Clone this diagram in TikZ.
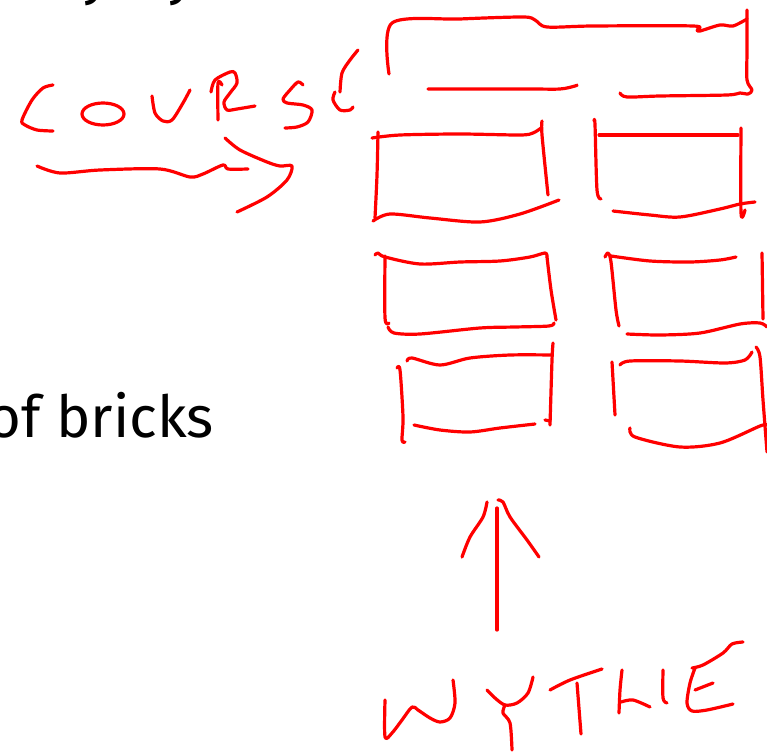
\documentclass[tikz,border=0pt]{standalone}
\usepackage{fontspec}
\setmainfont{Fira Sans}
\begin{document}
\begin{tikzpicture}[x=1pt,y=-1pt,
  ink/.style={draw=red, line width=3.2pt, line cap=round, line join=round},
  sk/.style={ink, smooth, tension=0.5}]
\useasboundingbox (0,0) rectangle (767,751);
\clip (0,0) rectangle (767,751);
\fill[white] (0,0) rectangle (767,751);
% printed text
\node[anchor=base east, inner sep=0, font=\fontsize{58}{60}\selectfont] (txt) at (214,437) {of bricks};
\node[anchor=base, inner sep=0, font=\fontsize{58}{60}\selectfont] (y1) at (97,-6) {y};
\node[anchor=base, inner sep=0, font=\fontsize{58}{60}\selectfont] (y2) at (182,-6) {y};
% COURSE
\draw[sk] plot coordinates {(53,85) (43,88) (32,100) (22,120) (25,125) (37,130) (53,131)};
\draw[ink] (103,114) ellipse [x radius=21, y radius=11];
\draw[sk] plot coordinates {(152,96) (155,113) (163,121) (172,120) (183,103) (190,90)};
\draw[sk] plot coordinates {(218,120) (218,83) (222,85)};
\draw[sk] plot coordinates {(211,92) (215,80) (230,72) (235,73) (237,83) (230,93) (224,102) (227,110) (237,109) (255,106)};
\draw[sk] plot coordinates {(303,85) (298,82) (290,90) (283,99) (287,103) (303,105) (312,110) (308,122) (297,127) (285,128)};
\draw[sk] plot coordinates {(358,50) (350,60) (342,73) (340,92)};
\draw[sk] plot coordinates {(335,92) (333,100) (340,110) (350,110) (353,107)};
% arrow under COURSE
\draw[sk] plot coordinates {(37,166) (60,173) (100,170) (160,169) (190,177) (203,174) (223,165) (228,169) (248,169)};
\draw[sk] plot coordinates {(225,138) (240,150) (267,162) (280,166) (292,166) (287,180) (267,197) (237,212)};
% top brick
\draw[sk] plot coordinates {(389,74) (392,23) (460,19) (523,17) (535,20) (547,27) (593,26) (693,26) (697,30) (700,31) (720,25) (733,26) (747,19)};
\draw[sk] plot coordinates {(747,10) (747,50) (747,80) (752,90) (748,94) (740,93) (727,95) (660,96) (627,97) (620,93)};
\draw[sk] plot coordinates {(428,89) (527,89) (560,89) (575,86) (577,85)};
% row 2 left
\draw[sk] plot coordinates {(372,138) (400,135) (460,134) (520,135) (533,133) (541,128)};
\draw[sk] plot coordinates {(378,132) (377,175) (375,218)};
\draw[sk] plot coordinates {(542,121) (542,135) (548,195)};
\draw[sk] plot coordinates {(373,221) (390,214) (430,218) (480,222) (520,214) (559,200)};
% row 2 right
\draw[sk] plot coordinates {(594,121) (595,125) (597,190) (601,199)};
\draw[sk] plot coordinates {(599,135) (738,135)};
\draw[sk] plot coordinates {(741,128) (741,213) (745,210)};
\draw[sk] plot coordinates {(613,211) (650,215) (680,217) (720,209) (740,204) (755,202)};
% row 3 left
\draw[sk] plot coordinates {(375,255) (378,253) (385,257) (420,264) (460,262) (500,261) (530,257) (545,253) (547,257)};
\draw[sk] plot coordinates {(385,256) (385,318) (389,323)};
\draw[sk] plot coordinates {(547,257) (551,290) (556,320)};
\draw[sk] plot coordinates {(388,327) (394,333) (420,334) (480,328) (515,327) (549,326) (554,323)};
% row 3 right
\draw[sk] plot coordinates {(605,257) (608,253) (611,262) (616,310) (619,326)};
\draw[sk] plot coordinates {(611,256) (650,261) (690,262) (720,260) (736,257)};
\draw[sk] plot coordinates {(762,253) (763,319)};
\draw[sk] plot coordinates {(627,334) (660,335) (700,333) (740,324) (760,323) (767,327)};
% row 4 left
\draw[sk] plot coordinates {(397,368) (400,370) (403,417) (402,440) (405,442)};
\draw[sk] plot coordinates {(407,361) (412,358) (440,365) (470,358) (510,355) (552,355)};
\draw[sk] plot coordinates {(553,343) (552,360) (550,425)};
\draw[sk] plot coordinates {(414,425) (440,430) (470,432) (500,428) (535,424)};
\draw[ink] (545,420) -- (550,421);
% row 4 right
\draw[sk] plot coordinates {(612,362) (615,415)};
\draw[sk] plot coordinates {(620,365) (630,361) (680,361) (725,363) (745,360) (752,352)};
\draw[sk] plot coordinates {(756,347) (760,357) (763,400) (767,452)};
\draw[sk] plot coordinates {(630,428) (635,437) (680,447) (720,443) (760,426) (767,425)};
% arrow up
\draw[ink] (497,508) -- (497,630);
\draw[sk] plot coordinates {(487,502) (483,517) (470,537) (462,557)};
\draw[sk] plot coordinates {(498,500) (503,502) (510,517) (527,540) (539,557)};
% WYTHE
\draw[sk] plot coordinates {(385,700) (385,737) (392,733) (402,720) (412,707) (418,710) (430,718) (440,722) (450,718) (455,703) (453,680)};
\draw[sk] plot coordinates {(487,690) (495,698) (505,705) (517,703) (528,693) (533,677)};
\draw[sk] plot coordinates {(505,705) (503,713) (510,723) (512,750)};
\draw[sk] plot coordinates {(550,690) (570,680) (602,669)};
\draw[sk] plot coordinates {(577,683) (581,734)};
\draw[sk] plot coordinates {(619,713) (620,690) (622,670)};
\draw[sk] plot coordinates {(621,702) (633,700) (650,707)};
\draw[sk] plot coordinates {(663,670) (663,698) (667,703)};
\draw[sk] plot coordinates {(692,668) (703,665) (723,653) (732,644) (743,642)};
\draw[sk] plot coordinates {(695,668) (690,683) (687,703) (692,711) (707,710) (733,704)};
\draw[sk] plot coordinates {(695,690) (713,683)};
\end{tikzpicture}
\end{document}
